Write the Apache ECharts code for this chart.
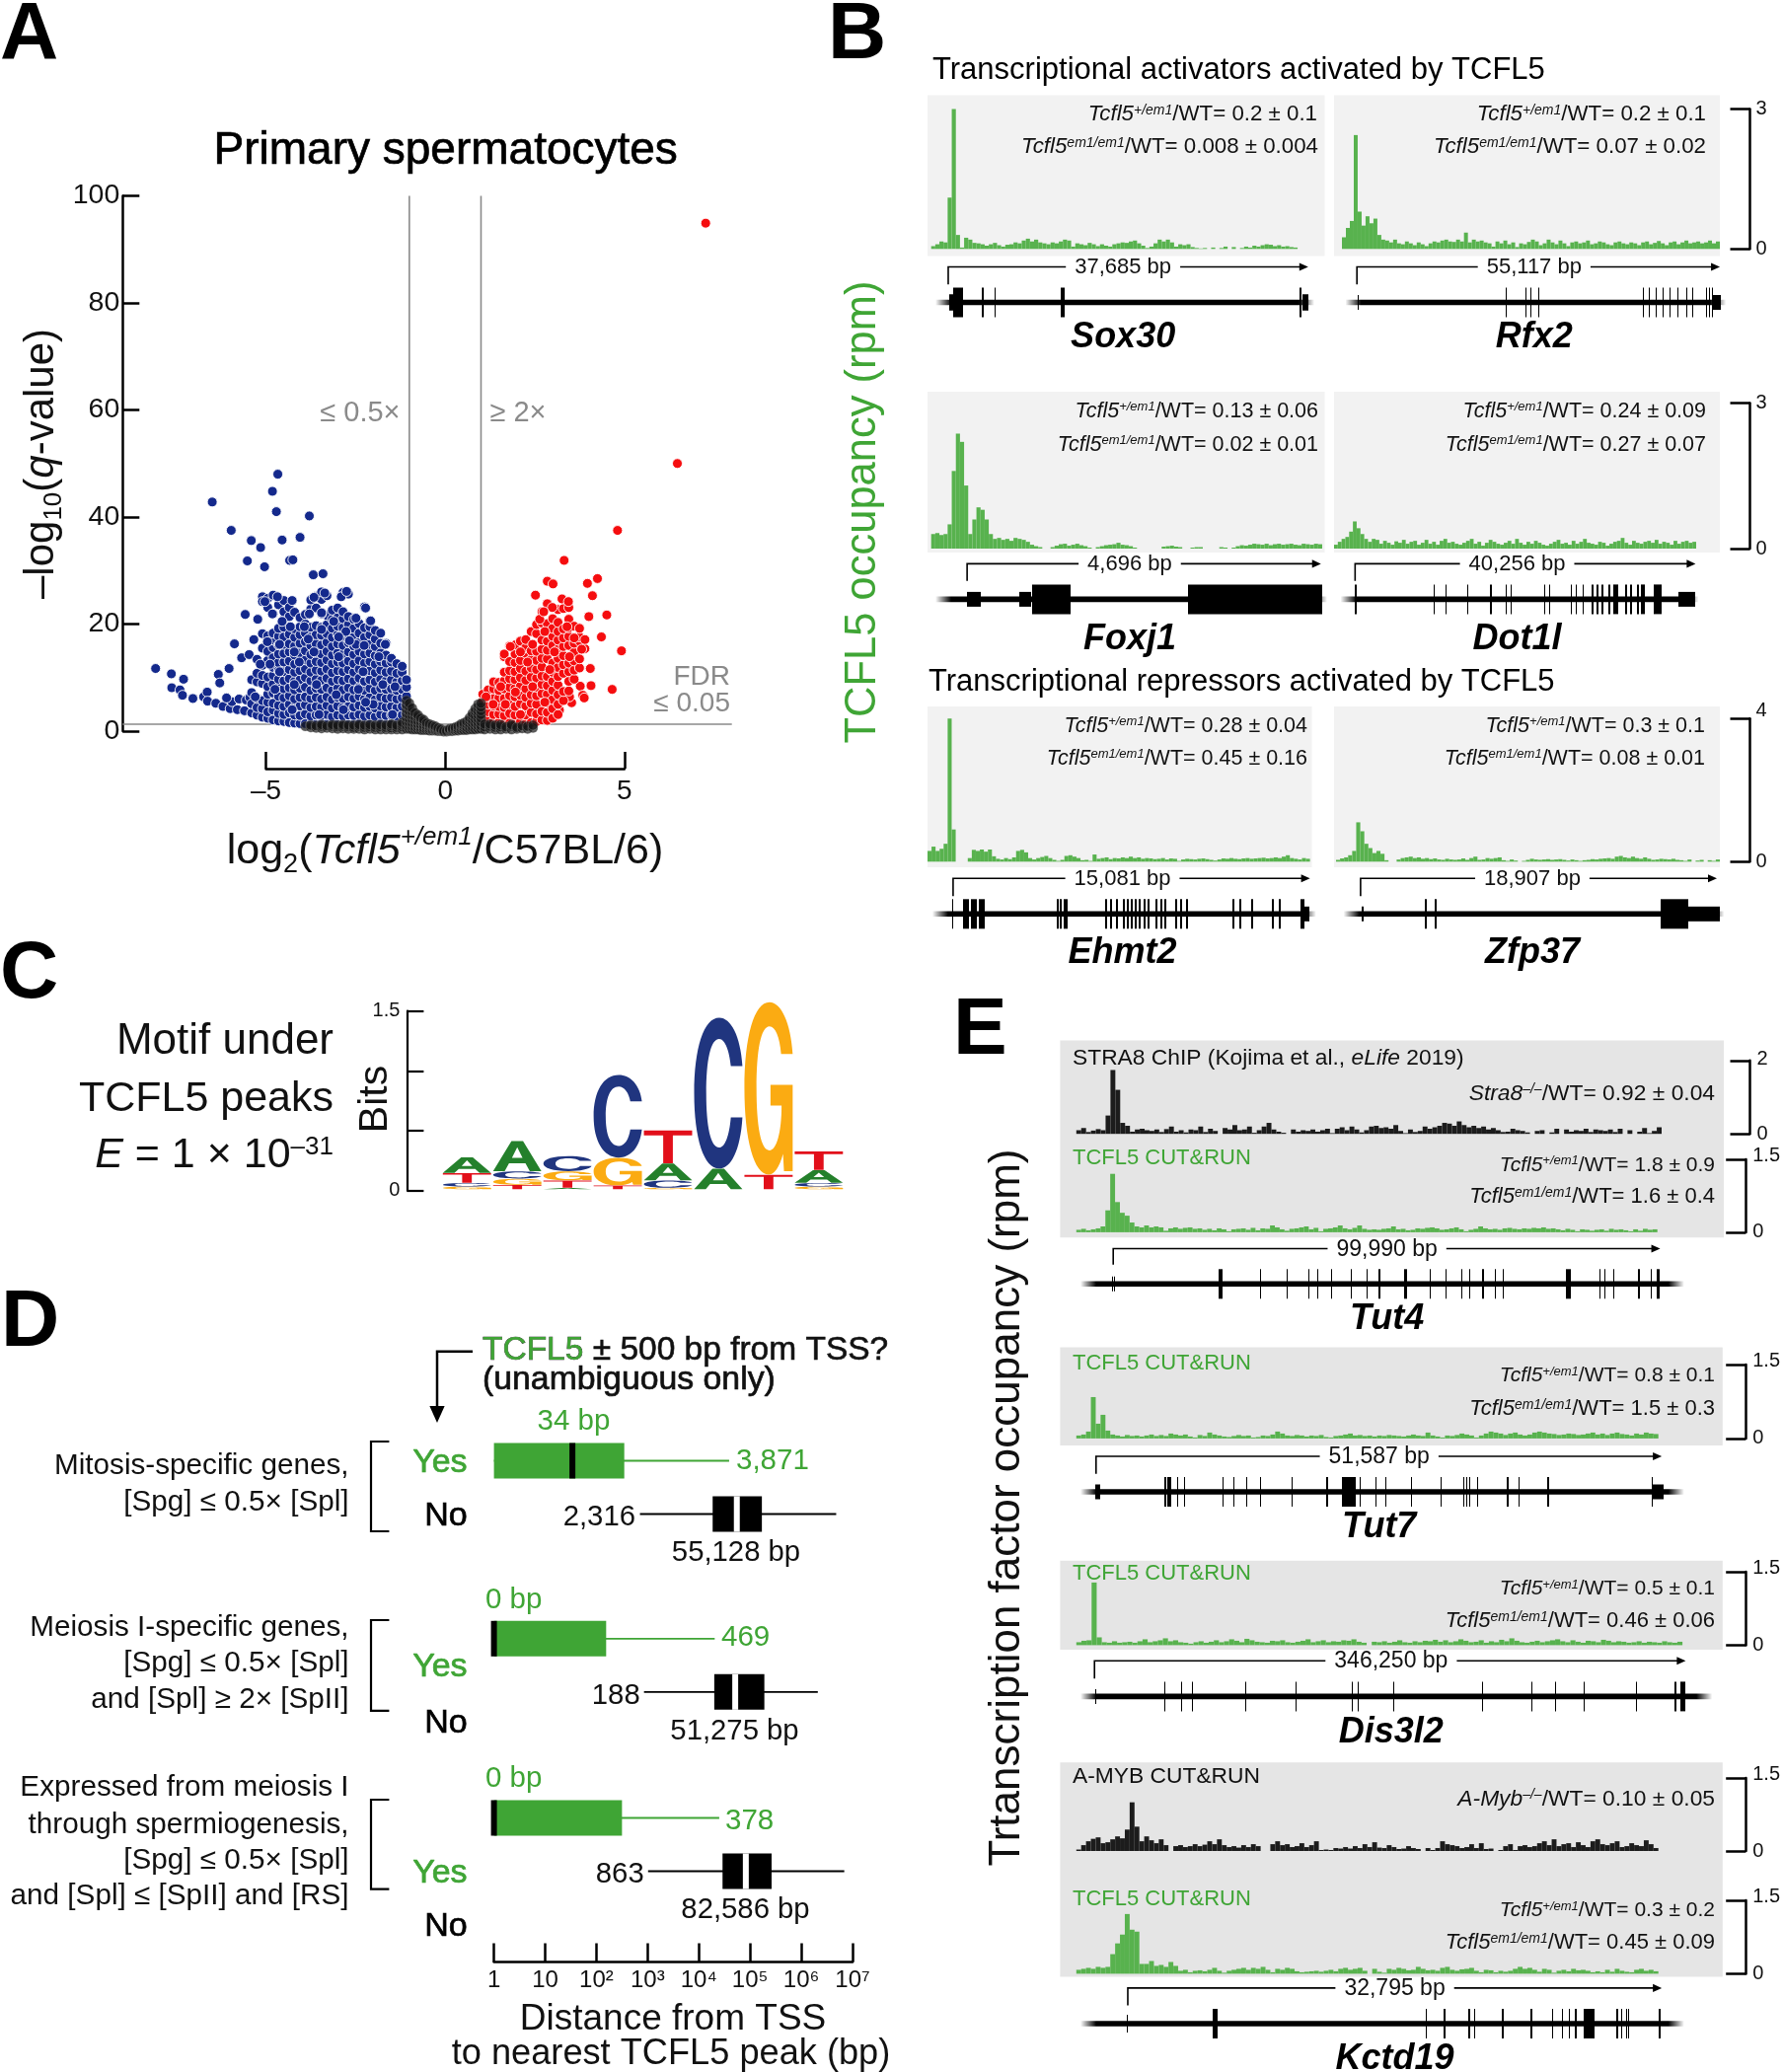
<!DOCTYPE html>
<html><head><meta charset="utf-8">
<style>html,body{margin:0;padding:0;background:#fff}#c{width:1807px;height:2100px}</style>
<script src="https://cdn.jsdelivr.net/npm/echarts@6/dist/echarts.min.js"></script>
</head><body><div id="c"></div>
<script>
// ===== DATA: panel A (log2 fold change, -log10 q) =====
const blueOutliers=[[-8.08,11.7],[-7.64,10.7],[-7.3,9.7],[-7.63,8.1],[-7.4,7.7],[-7.33,6.7],[-7.04,6.1],[-6.74,6.4],[-6.64,7.3],[-6.63,5.6],[-6.33,10.6],[-6.29,9],[-6.03,11.7],[-5.88,16.3],[-5.68,13.7],[-5.47,14.3],[-5.58,21.8],[-5.23,20.9],[-5.34,17.1],[-6.5,42.8],[-5.97,37.5],[-5.41,35.6],[-5.15,34.3],[-5.52,31.8],[-5.04,30.7],[-4.82,44.8],[-4.67,48],[-4.71,41],[-4.55,35.7],[-4.05,36.2],[-3.79,40.2],[-4.34,31.9],[-4.25,32],[-3.68,29.2],[-3.41,29.4],[-6.4,5.2],[-6.2,4.6],[-6,4.2],[-5.95,5.5],[-5.8,4],[-5.75,6],[-5.6,3.8],[-5.55,5.8],[-5.45,6.3],[-5.3,3.5],[-5.2,5],[-5.1,3.2],[-6.1,6.2]];
const blueColumns=[
[-5.4,[3.4,5.1,7.2,9.6]],
[-5.25,[3,4.4,6.1,9.2,10.8,13.4]],
[-5.1,[2.6,4.2,5.7,8.9,10.4,12.3,15.5,18.2,25.1,24.2]],
[-4.95,[2.4,3.6,5.4,6.9,8.3,10.1,13.2,14.9,17.8,23.1,24.8]],
[-4.8,[2.1,3.9,5.2,7.1,8.8,10.4,11.9,13.7,15.6,17,18.3,21.9,25.4]],
[-4.65,[1.9,3.3,4.8,6.5,8.2,9.7,11.3,12.8,14.4,16.1,17.7,19.2,23.6]],
[-4.5,[1.8,3.1,4.6,6.2,7.9,9.4,11.1,12.9,14.5,16.2,17.6,19.4,20.9,22.3,24.4]],
[-4.35,[1.6,3.4,5,6.6,8.1,9.8,11.5,13.1,14.8,16.3,18.1,21.4,23.1]],
[-4.2,[1.5,3,4.5,6,7.7,9.3,11,12.5,14.2,15.9,17.5,19.1,22.2]],
[-4.05,[1.4,2.9,4.7,6.3,8,9.6,11.3,13,14.6,16.4,18,19.5,21.2]],
[-3.9,[1.4,3.2,4.9,6.4,8.2,10,11.6,13.3,15,16.7,18.3,20,21.8]],
[-3.75,[1.3,2.8,4.4,6.1,7.6,9.4,11,12.7,14.3,16,17.6,19.4,22.8,24.5]],
[-3.6,[1.3,3,4.6,6.3,8,9.7,11.4,13,14.7,16.3,18,19.7,23,25.2]],
[-3.45,[1.4,2.9,4.5,6,7.8,9.5,11.2,12.8,14.4,16.1,17.9,19.4,24.6,26]],
[-3.3,[1.3,3.1,4.8,6.4,8.1,9.9,11.6,13.3,14.9,16.6,18.2,19.9,21.6,25.3]],
[-3.15,[1.3,2.7,4.3,5.9,7.6,9.3,10.9,12.6,14.2,15.8,17.5,19.2,20.9,22.6]],
[-3,[1.4,3,4.7,6.3,8,9.6,11.3,12.9,14.6,16.3,18,19.6,21.2,23]],
[-2.85,[1.3,2.8,4.4,6.1,7.7,9.4,11.1,12.7,14.4,16,17.7,19.3,21,22.3,25.9]],
[-2.7,[1.3,3,4.6,6.4,8.1,9.8,11.5,13.1,14.8,16.5,18.1,19.9,21.4,25.6]],
[-2.55,[1.3,2.9,4.5,6.1,7.7,9.4,11,12.6,14.3,15.9,17.6,19.2,20.9]],
[-2.4,[1.4,3.1,4.8,6.5,8.2,9.9,11.6,13.2,14.9,16.6,18.3,20.1]],
[-2.25,[1.3,2.8,4.4,6,7.6,9.3,11,12.7,14.4,16,17.5,19.3,23.2]],
[-2.1,[1.3,3,4.6,6.3,8,9.6,11.3,13,14.6,16.2,18,19.5,20.6]],
[-1.95,[1.3,2.7,4.3,5.9,7.6,9.2,10.9,12.5,14.1,15.8,17.2,18.8]],
[-1.8,[1.4,3.1,4.7,6.4,8,9.7,11.4,13,14.6,16.4,18.3]],
[-1.65,[1.3,2.9,4.5,6.1,7.8,9.4,11,12.7,14.2,16.4]],
[-1.5,[1.3,3,4.6,6.3,7.9,9.6,11.2,12.9,13.6]],
[-1.35,[1.4,2.8,4.4,6,7.6,9.2,10.8,12.6]],
[-1.2,[1.3,3,4.6,6.2,7.8,9.4,11,12.1]],
[-1.08,[1.5,3.2,4.8,6.5,8.2,9.6]]];
const blueOnTop=[[-4.96,16.7],[-4.62,16.2],[-4.32,19.5],[-3.93,19.5],[-3.45,21.9],[-3.11,20.5],[-2.77,18.6],[-2.49,16.2],[-2.26,16],[-1.67,16.2],[-1.85,13.9],[-4.21,14.8],[-3.82,17.2],[-3.45,19],[-2.97,17.6],[-2.67,16.9],[-4.62,11.1],[-4.07,12.9],[-3.66,14.8],[-2.97,13.9],[-2.29,11.1],[-1.74,8.7],[-4.89,12.5],[-5.16,12.5],[-4.21,8.7],[-3.59,8.7],[-3.04,6.8],[-2.42,7.8],[-2.01,5],[-1.4,8.3],[-4.75,7.8],[-5.3,6.4],[-4.27,4],[-3.52,3.1],[-2.84,4],[-2.22,5.4],[-1.47,3.1],[-4.55,20.5],[-4.82,21.9],[-5.03,24.2],[-4.68,25.1],[-4.27,24.4],[-3.79,21.9],[-3.45,22.1],[-3.66,25],[-3.36,25.8],[-2.9,25.1],[-2.75,26.1],[-2.22,23],[-2.08,20.6],[-2.49,21.1]];
const redOutliers=[[7.27,94.9],[6.48,50],[4.81,37.5],[3.32,31.9],[2.85,28],[3.01,27.5],[2.52,25.4],[3.97,27.6],[4.25,28.5],[4.11,25.3],[4.01,21.4],[4.51,21.7],[4.36,17.6],[4.92,15],[4.05,11.7],[4.07,8.5],[4.66,7.8],[3.77,8.4],[3.84,6.7],[3.88,6.2],[3.53,5.3],[3.47,6.4],[3.05,3.4],[3.19,3.9]];
const redColumns=[
[1.05,[2.7,4.3,5.6,6.9]],
[1.2,[2.2,3.6,5,6.4,7.7]],
[1.35,[1.8,3.1,4.7,6.1,7.9,9.2]],
[1.5,[1.6,3.2,4.6,6.2,7.6,9.1]],
[1.65,[1.5,2.9,4.4,6.1,7.9,9.4,11,13.9,14.4]],
[1.8,[1.5,3.3,5,6.6,8.2,9.8,11.3,13,15.9]],
[1.95,[1.4,3,4.6,6.4,8,9.6,11.1,12.8,14.4,16.1]],
[2.1,[1.7,5.1,6.7,8.4,10,11.7,13.2,16.8]],
[2.25,[1.4,3,4.7,6.3,7.9,9.5,11.2,14.5,15.6,17.1]],
[2.4,[1.6,3.5,5.2,6.8,10.1,11.8,13.4,15,18.6]],
[2.55,[1.8,3.2,5,6.6,8.2,9.9,11.5,13.2,14.9,18.2,19.9]],
[2.7,[2.1,3.7,7,8.7,10.3,12,13.6,15.3,17,20.2,22.3]],
[2.85,[2,3.5,5.2,6.9,8.5,10.2,13.5,15.1,16.8,18.5,20.1,23.8]],
[3,[2.4,4.2,5.9,7.6,9.3,11,12.7,16,17.7,19.2,21]],
[3.15,[3.1,5,6.8,8.6,10.2,11.9,13.6,15.3,17,18.6,20.3,22.7]],
[3.3,[5.7,7.4,10.8,12.4,14.1,15.8,17.4,19.1,22.9]],
[3.45,[7.5,9.3,11.1,12.7,16,17.7,19.3,20.9,23.1]],
[3.6,[9.7,11.4,13.1,14.7,16.4,19.6]],
[3.75,[11.8,13.5,16.8,17.6,19.2]],
[3.9,[15.4,17.1]]];
const redOnTop=[[2.64,20.9],[2.99,23.1],[3.26,24.7],[3.44,24.2],[2.75,22.3],[2.78,18.6],[3.4,19.5],[3.6,17.4],[1.82,15.8],[2.1,14.8],[2.44,16.2],[3.05,14.8],[2.3,12.9],[2.92,11.5],[3.47,13.9],[3.81,15.3],[1.55,8.3],[1.96,7.3],[2.44,8.3],[2.78,5.4],[1.68,5],[1.34,5],[1.14,6.4],[2.1,3.1]];
const blackColumns=[
[-3.9,[.9]],[-3.75,[.7,1.1]],[-3.6,[.6,1]],[-3.45,[.5,.9,1.2]],[-3.3,[.6,1]],[-3.15,[.5,.9,1.2]],[-3,[.4,.8,1.1]],[-2.85,[.5,.9,1.2]],[-2.7,[.4,.8,1.1]],[-2.55,[.4,.7,1.1]],[-2.4,[.4,.9,1.2]],[-2.25,[.3,.7,1.1]],[-2.1,[.4,.8,1.2]],[-1.95,[.3,.7,1.1]],[-1.8,[.3,.8,1.2]],[-1.65,[.3,.7,1.1]],[-1.5,[.3,.6,1,1.3]],[-1.35,[.3,.7,1.1]],[-1.2,[.3,.8,1.2,1.6]],
[-1.08,[.4,1,1.7,2.5,3.3,4.1,4.9,5.7]],[-1,[.4,1,1.6,2.3,3,3.7,4.5,5.2]],[-.92,[.3,.9,1.5,2.2,2.9,3.6,4.3]],[-.84,[.3,.8,1.4,2,2.7,3.4]],[-.76,[.3,.8,1.3,1.9,2.6,3]],[-.68,[.2,.7,1.2,1.8,2.4]],[-.6,[.2,.6,1.1,1.7,2.1]],[-.52,[.2,.6,1,1.5]],[-.44,[.1,.5,.9,1.3]],[-.36,[.1,.4,.8,1.1]],[-.28,[.1,.3,.6,.9]],[-.2,[0,.3,.6]],[-.12,[0,.2,.4]],[-.04,[-.1,.1]],[.04,[-.1,.1]],[.12,[0,.2,.4]],[.2,[0,.3,.5]],[.28,[.1,.4,.7]],[.36,[.1,.5,.9]],[.44,[.2,.6,1,1.3]],[.52,[.2,.7,1.1,1.5]],[.6,[.2,.7,1.3,1.8]],[.68,[.3,.8,1.4,2,2.5]],[.76,[.3,.8,1.5,2.1,2.8,3.3]],[.84,[.3,.9,1.5,2.2,2.9,3.7,4.2]],[.92,[.4,1,1.6,2.3,3,3.7,4.4,5]],[1,[.4,1,1.7,2.4,3.1,3.8,4.5,5.2]],[1.1,[.3,.8,1.3]],[1.25,[.4,.9,1.3]],[1.4,[.3,.7,1.1]],[1.55,[.3,.8,1.2]],[1.7,[.4,.8]],[1.85,[.3,.9,1.2]],[2,[.4,.7]],[2.15,[.5,1]],[2.3,[.4,.9]],[2.45,[.6,1.1]]];
const xTicksA=[-5,0,5];
// ===== DATA: panel C motif, bits per letter stacked from bottom =====
const logoColumns=[
[['G',.02],['C',.03],['T',.08],['A',.13]],
[['T',.035],['G',.05],['C',.06],['A',.25]],
[['A',.01],['T',.06],['G',.075],['C',.125]],
[['T',.03],['G',.23],['C',.69]],
[['G',.01],['C',.06],['A',.14],['T',.275]],
[['A',.17],['C',1.26]],
[['T',.12],['G',1.44]],
[['G',.02],['C',.03],['A',.105],['T',.155]]];
// ===== DATA: panel D [lowWhisker, q1, median, q3, highWhisker] in bp =====
const distYes1=[1,1,34,350,39000], distNo1=[708,18600,55128,170000,4800000];
const distYes2=[1,1,1,155,20400], distNo2=[850,20000,51275,190000,2100000];
const distYes3=[1,1,1,316,25000], distNo3=[1020,29000,82586,263000,6900000];
// ===== DATA: coverage tracks in rpm =====
const sox30Track=[.06,.1,.16,.14,1.1,3,.3,.03,.24,.2,.13,.12,.1,.07,.1,.13,.08,.05,.09,.1,.14,.12,.18,.22,.16,.2,.14,.12,.1,.14,.12,.16,.2,.18,.05,.12,.1,.08,.13,.1,.06,.1,.07,.05,.1,.12,.14,.13,.16,.18,.12,.07,.02,.05,.12,.2,.16,.2,.14,.05,.1,.08,.1,.04,.02,.01,.02,0,.03,0,.02,.05,0,.04,0,.02,.05,.03,.07,.05,.08,.1,.09,.06,.08,.05,.06,.04,.03,0,0,0];
const rfx2Track=[.25,.45,.6,2.44,.8,.5,.7,.55,.65,.3,.2,.18,.14,.2,.12,.1,.16,.12,.08,.14,.1,.06,.12,.16,.14,.18,.2,.16,.15,.2,.16,.35,.14,.2,.16,.18,.14,.12,.05,.16,.12,.18,.1,.14,.04,.12,.1,.15,.2,.16,.08,.12,.2,.14,.1,.18,.12,.06,.14,.16,.12,.14,.18,.1,.12,.16,.14,.1,.08,.14,.16,.12,.1,.14,.12,.08,.14,.16,.1,.13,.17,.12,.08,.14,.16,.1,.14,.18,.12,.14,.16,.12,.14,.18,.12,.16];
const foxj1Track=[.3,.32,.28,.3,.5,1.6,2.37,2.2,1.3,.3,.6,.85,.8,.6,.3,.2,.22,.18,.2,.16,.22,.2,.18,.14,.08,.05,.03,0,0,.03,.06,.09,.1,.06,.08,.1,.07,.05,.02,0,.03,.05,.07,.08,.09,.12,.08,.07,.05,.02,0,0,0,0,0,0,.04,.05,.06,.04,.03,0,0,.02,.03,.03,0,0,0,0,.03,.02,0,.02,.05,.07,.06,.08,.1,.09,.08,.1,.07,.09,.1,.08,.09,.1,.08,.07,.1,.09,.08,.1,.09];
const dot1lTrack=[.08,.14,.2,.24,.35,.56,.42,.3,.2,.14,.2,.18,.1,.16,.12,.08,.15,.12,.18,.1,.14,.16,.08,.12,.18,.1,.14,.08,.16,.2,.12,.14,.1,.08,.12,.16,.2,.1,.14,.06,.12,.18,.14,.1,.08,.12,.16,.1,.2,.12,.08,.14,.1,.16,.12,.08,.06,.1,.14,.18,.1,.12,.08,.16,.1,.14,.2,.12,.1,.08,.14,.12,.06,.1,.14,.16,.22,.12,.08,.16,.12,.1,.14,.16,.12,.18,.1,.14,.12,.08,.16,.1,.14,.16,.12,.14];
const ehmt2Track=[.3,.42,.3,.36,.5,4,.9,0,0,0,.1,.33,.3,.34,.28,.34,.15,.08,.06,.1,.07,.12,.3,.33,.26,.1,.06,.1,.13,.16,.1,.05,.02,.05,.16,.18,.14,.1,.04,.05,.02,.2,.08,.1,.12,.07,.1,.09,.12,.1,.14,.1,.12,.08,.1,.09,.07,.08,.1,.06,.09,.08,.02,.06,.08,.07,.06,.08,.09,.07,.05,.03,.06,.09,.08,.1,.08,.07,.09,.1,.08,.09,.1,.11,.09,.1,.12,.1,.14,.18,.1,.08,.06,.1,.08];
const zfp37Track=[.05,.09,.12,.18,.3,1.1,.85,.5,.38,.24,.3,.22,.04,0,0,.06,.1,.12,.14,.1,.12,.08,.1,.07,.09,.06,.05,.08,.06,.05,.06,.09,.05,.1,.14,.05,.06,.1,.08,.1,.12,.04,.02,.06,.03,0,.02,.05,.08,.06,.05,.06,.07,.05,.06,.07,.05,.03,.06,.04,.02,.04,.05,.07,.06,.08,.09,.1,.08,.14,.16,.12,.1,.14,.1,.08,.12,.08,.05,.06,.08,.07,.06,.08,.05,.04,.02,.06,0,.03,.05,0,.04,.02,.06];
const stra8Track=[.1,.16,.05,.09,.13,.1,.5,1.74,1.2,.3,.22,.06,.12,.14,.1,.08,.12,.05,.13,.2,.06,.1,.04,.12,.1,.2,.05,.14,.08,0,.16,.12,.24,.1,.12,.2,.03,.1,.2,.3,.12,.06,.03,0,.12,.06,.1,.08,.12,.06,.1,.14,.02,.14,.18,.1,.2,.12,.04,.1,.2,.22,.16,.18,.14,.24,.08,.02,.12,.05,.08,.2,.14,.18,.22,.3,.28,.22,.34,.24,.18,.22,.16,.2,.12,.16,.1,.05,.06,.14,.1,.08,.04,0,.08,.1,0,.04,.14,0,.12,.06,.1,.08,.14,.05,.12,.1,.08,.12,.05,.14,0,.1,0,.06,.16,.02,.08,.18];
const tcfl5Tut4Track=[.05,.07,.04,.06,.08,.12,.45,1.2,.62,.4,.34,.2,.12,.1,.14,.1,.12,.1,.03,.08,.1,.07,.09,.1,.07,.08,.05,.07,.04,.08,.06,.02,.06,.07,.08,.05,.09,.04,.08,.07,.14,.1,.06,.03,.07,.08,.1,.12,.06,.09,.02,.07,.08,.1,.14,.08,.06,.09,.14,.07,.05,.06,.05,.07,.08,.12,.06,.07,.04,.05,.08,.07,.09,.1,.08,.05,.06,.08,.1,.06,.02,.05,.07,.12,.08,.06,.07,.05,.08,.09,.07,.06,.08,.07,.09,.08,.1,.07,.08,.06,.04,.07,.05,.02,.06,.05,.03,.05,.06,.03,.07,.05,.06,.04,.02,.06,.03,.07,.05,.06];
const tcfl5Tut7Track=[.06,.08,.14,.84,.3,.48,.16,.08,.06,.04,.07,.05,.06,.04,.06,.08,.05,.07,.05,.1,.08,.06,.08,.04,.02,.07,.05,.12,.08,.06,.04,.03,.05,.07,.05,.06,.02,.03,.06,.05,.08,.14,.1,.06,.05,.07,.06,.04,.06,.05,.07,.03,.02,.05,.06,.08,.1,.06,.07,.05,.06,.04,.06,.05,.07,.06,.05,.04,.06,.08,.06,.05,.12,.06,.04,.02,.06,.05,.07,.1,.08,.06,.02,.06,.1,.14,.12,.1,.07,.1,.12,.08,.06,.08,.12,.14,.12,.1,.09,.07,.08,.1,.09,.07,.08,.1,.12,.08,.1,.07,.1,.12,.09,.08,.06,.1,.08,.12,.1,.09];
const dis3l2Track=[.06,.09,.1,1.28,.16,.06,.05,.08,.05,.06,.07,.05,.08,.12,.06,.08,.1,.14,.08,.1,.06,.05,.03,.06,.08,.05,.07,.1,.06,.08,.12,.09,.06,.13,.1,.07,.06,.05,.09,.08,.1,.06,.05,.07,.09,.12,.06,.08,.1,.06,.08,.07,.1,.09,.12,.07,.05,0,.07,.06,.08,.05,.07,.1,.06,.05,.08,.06,.09,.08,.11,.07,.1,.06,.08,.12,.09,.06,.07,.1,.05,.08,.06,.11,.08,.14,.09,.06,.05,.07,.09,.06,.08,.1,.12,.08,.06,.1,.07,.05,.09,.08,.06,.11,.09,.06,.08,.07,.05,.06,.08,.05,.07,.06,.05,.08,.06,.05,.07];
const amybTrack=[.03,.12,.2,.25,.28,.16,.18,.24,.3,.26,.44,1,.5,.2,.3,.22,.16,.24,.12,0,.1,.12,.08,.1,.14,.1,.13,.2,.14,.24,.12,.08,.1,.07,.12,.08,.14,.1,0,0,.14,.2,.12,.14,.08,.1,.16,.08,.12,.2,.02,.03,.02,.06,.05,.08,.05,.1,.06,.14,.08,.18,.07,.06,.12,.08,.04,.05,.1,.06,.04,0,.06,.02,.06,.2,.14,.12,.1,.06,.08,.14,.06,.16,.04,.05,0,.02,.1,.14,.02,.1,.12,.08,.1,.16,.2,.12,.24,.1,.14,.16,.08,.18,.12,.08,.2,.24,.14,.12,.16,.2,.08,.1,.16,.12,.1,.22,.14,.06];
const tcfl5KctdTrack=[.08,.1,.12,.1,.14,.12,.14,.4,.62,.8,1.22,.9,.86,.2,.2,.26,.16,.18,.14,.24,.16,.06,.08,.03,.06,.07,.05,.08,.12,.06,.02,.06,.08,.1,.12,.08,.12,.1,.14,.08,.03,.1,.08,.12,.1,.05,.03,.04,.05,.06,.04,.06,.08,.05,.1,.12,.08,.1,.12,.06,0,.1,.04,.02,.1,.08,.12,.1,.07,.08,.14,.1,.07,.08,.06,.12,.14,.08,.06,.09,.1,.12,.06,.03,.08,.07,.03,.06,.04,.06,.1,.14,.1,.12,.08,.04,.1,.08,.02,.06,.08,.05,.1,.07,.08,.06,.03,.05,.03,.08,.04,.1,.06,.04,.03,.08,.1,.06,.08,.05];
// ===== DATA: gene models: [start, end, relative half height] along each gene =====
const sox30Exons=[[197,204,.55],[204,221,1],[251,254,1],[272,274,1],[380,386,1],[773,777,1],[777,787,.55]];
const rfx2Exons=[[869,871,.5],[1112,1114,1],[1143,1145,1],[1152,1154,1],[1164,1166,1],[1336,1338,1],[1346,1348,1],[1357,1359,1],[1369,1371,1],[1380,1382,1],[1394,1396,1],[1407,1409,1],[1418,1420,1],[1440,1442,1],[1445,1447,1],[1450,1452,1],[1452,1465,.5]];
const foxj1Exons=[[227,249,.5],[313,333,.5],[333,396,1],[589,684,1],[685,810,1]];
const dot1lExons=[[863,865.5,1],[993,995,1],[1013,1015,1],[1048,1050,1],[1085,1088,1],[1111,1113,1],[1119,1121,1],[1175,1177,1],[1182,1184,1],[1219,1221,1],[1227,1229,1],[1237,1239,1],[1253,1257,1],[1261,1265,1],[1269,1272,1],[1279,1282,1],[1288,1296,1],[1307,1310,1],[1315,1318,1],[1326,1330,1],[1333,1340,1],[1355,1368,1],[1395,1423,.5]];
const ehmt2Exons=[[203,205,1],[221,230,1],[234,243,1],[247,257,1],[374,377,1],[379,382,1],[385,391,1],[454,457,1],[462,465,1],[472,475,1],[482,486,1],[489,492,1],[496,499,1],[502,505,1],[509,512,1],[516,520,1],[523,526,1],[536,539,1],[544,547,1],[551,554,1],[569,572,1],[577,580,1],[587,591,1],[663,666,1],[674,677,1],[694,697,1],[727,730,1],[739,742,1],[774,780,1],[780,790,.5]];
const zfp37Exons=[[875,878,.5],[979,982,1],[994,997,1],[1365,1411,1],[1411,1463,.5]];
const tut4Exons=[[278,280,.5],[283,285,.5],[483,491,1],[563,565,1],[615,617,1],[656,658,1],[674,676,1],[699,701,1],[737,739,1],[767,769,1],[791,795,1],[840,846,1],[890,892,1],[920,922,1],[950,952,1],[965,967,1],[989,993,1],[1014,1016,1],[1030,1032,1],[1150,1160,1],[1215,1217,1],[1224,1226,1],[1242,1244,1],[1290,1294,1],[1314,1316,1],[1326,1331,1]];
const tut7Exons=[[247,256,.5],[379,382,1],[384,387,1],[389,392,1],[404,406,1],[418,420,1],[491,493,1],[511,513,1],[536,538,1],[564,566,1],[624,626,1],[691,695,1],[720,747,1],[755,757,1],[784,786,1],[804,806,1],[854,856,1],[910,912,1],[953,955,1],[959,961,1],[965,967,1],[981,983,1],[1037,1041,1],[1059,1061,1],[1115,1119,1],[1315,1317,1],[1317,1338,.5]];
const dis3l2Exons=[[246,248,.5],[380,382,1],[411,413,1],[432,434,1],[534,536,1],[632,634,1],[739,741,1],[750,752,1],[819,821,1],[989,991,1],[1084,1086,1],[1130,1132,1],[1185,1187,1],[1285,1287,1],[1359,1363,1],[1371,1381,1]];
const kctd19Exons=[[308,310,.6],[472,482,1],[881,883,1],[915,919,1],[964,968,1],[974,976,1],[1028,1032,1],[1083,1087,1],[1124,1126,1],[1144,1146,1],[1156,1158,1],[1168,1172,1],[1185,1205,1],[1248,1252,1],[1257,1259,1],[1266,1268,1],[1271,1273,1],[1329,1333,1]];

// ===== LAYOUT =====
const F='"Liberation Sans",Arial,Helvetica,sans-serif';
const GREEN='#3fa535', TRACKG='#58b24e', BLUE='#14298c', RED='#f50d0f', GRAY='#8a8a8a';
const grids=[],xAxes=[],yAxes=[],series=[],graphic=[];
function addGrid(g,x,y){grids.push(g);x.gridIndex=grids.length-1;y.gridIndex=grids.length-1;xAxes.push(x);yAxes.push(y);return grids.length-1;}
const hiddenAxis=o=>Object.assign({type:'value',show:false,splitLine:{show:false}},o);
function T(x,y,text,o={}){
  const size=o.size||22;
  const yy=o.rot?y:y+size*.075;
  graphic.push({type:'text',x,y:yy,rotation:o.rot||0,z:o.z||20,silent:true,style:Object.assign({text,fontFamily:F,fontSize:size,fontWeight:o.weight||'normal',fontStyle:o.italic?'italic':'normal',fill:o.color||'#111',align:o.align||'left',verticalAlign:'middle',rich:o.rich},o.medium?{stroke:o.color||'#111',lineWidth:o.medium}:{},o.bg?{backgroundColor:'#fff',padding:[0,9]}:{})});
}
function R(x,y,w,h,fill,z){graphic.push({type:'rect',z:z==null?-1:z,silent:true,shape:{x,y,width:w,height:h},style:{fill}});}
function P(pts,lw,z){graphic.push({type:'polyline',z:z||15,silent:true,shape:{points:pts},style:{stroke:'#000',lineWidth:lw,fill:null}});}
function head(x,y,dir,s){const p=dir==='r'?[[x,y],[x-s,y-s*.45],[x-s,y+s*.45]]:[[x,y],[x-s*.45,y-s],[x+s*.45,y-s]];
  graphic.push({type:'polygon',z:15,silent:true,shape:{points:p},style:{fill:'#000'}});}
function richFor(size,color){return {
  i:{fontFamily:F,fontStyle:'italic',fontSize:size,fill:color||'#111'},
  s:{fontFamily:F,fontStyle:'italic',fontSize:Math.round(size*.62),fill:color||'#111',verticalAlign:'top'},
  n:{fontFamily:F,fontSize:size,fill:color||'#111'}};}
function annot(xr,y,gen,sup,val,size){T(xr,y,`{i|${gen}}{s|${sup}}{n|/WT= ${val}}`,{align:'right',size,rich:richFor(size)});}

// --- panel letters
[['A',0,30],['B',839,30],['C',0,982],['D',1,1335],['E',966,1039]].forEach(a=>T(a[1],a[2],a[0],{size:82,weight:'bold',color:'#000'}));

// --- Panel A
const flat=c=>{const r=[];c.forEach(k=>k[1].forEach(y=>r.push([k[0],y])));return r;};
const iA=addGrid({left:124.3,top:198.5,width:617.4,height:542.5},
  hiddenAxis({min:-9,max:8}),
  {type:'value',min:0,max:100,interval:20,axisLine:{show:true,onZero:false,lineStyle:{color:'#000',width:2.5}},axisTick:{show:true,inside:true,length:17,lineStyle:{color:'#000',width:2.5}},axisLabel:{fontFamily:F,fontSize:28.5,color:'#111',margin:3,padding:[7,0,0,0]},splitLine:{show:false}});
const refLine=(d)=>({type:'line',xAxisIndex:iA,yAxisIndex:iA,data:d,showSymbol:false,symbol:'none',silent:true,lineStyle:{color:GRAY,width:1.6},z:1,clip:false});
series.push(refLine([[-1,1.3],[-1,100]]),refLine([[1,1.3],[1,100]]),refLine([[-9,1.3],[8,1.3]]));
const dot=(d,color,border,bw,z)=>({type:'scatter',xAxisIndex:iA,yAxisIndex:iA,data:d,symbolSize:10,itemStyle:{color,borderColor:border,borderWidth:bw,opacity:1},z,silent:true,clip:false});
series.push(dot(blueOutliers.concat(flat(blueColumns),blueOnTop),BLUE,'#fff',.9,3));
series.push(dot(redOutliers.concat(flat(redColumns),redOnTop),RED,'#fff',.9,3));
series.push(dot(flat(blackColumns),'rgba(22,22,22,.72)','rgba(190,190,190,.35)',.8,4));
const iAx=addGrid({left:269.6,top:762,width:363.2,height:17},
  {type:'value',min:-5,max:5,interval:5,axisLine:{lineStyle:{color:'#000',width:2.5},onZero:false},axisTick:{inside:true,length:17,lineStyle:{color:'#000',width:2.5}},axisLabel:{fontFamily:F,fontSize:28,color:'#111',margin:9,formatter:v=>xTicksA.includes(v)?String(v).replace('-','–'):''},splitLine:{show:false}},
  hiddenAxis({min:0,max:1}));
series.push({type:'line',xAxisIndex:iAx,yAxisIndex:iAx,data:[],silent:true});
T(451.7,150,'Primary spermatocytes',{size:46,align:'center',medium:.7,color:'#000'});
T(42,470,'{n|–log}{b|10}{n|(}{i|q}{n|-value)}',{size:42,align:'center',rot:Math.PI/2,rich:{n:{fontFamily:F,fontSize:42,fill:'#111',lineHeight:52},i:{fontFamily:F,fontStyle:'italic',fontSize:42,fill:'#111',lineHeight:52},b:{fontFamily:F,fontSize:26,fill:'#111',verticalAlign:'bottom',lineHeight:52}}});
T(451,860,'{n|log}{b|2}{n|(}{i|Tcfl5}{s|+/em1}{n|/C57BL/6)}',{size:43,align:'center',rich:{n:{fontFamily:F,fontSize:43,fill:'#111',lineHeight:54},i:{fontFamily:F,fontStyle:'italic',fontSize:43,fill:'#111',lineHeight:54},b:{fontFamily:F,fontSize:27,fill:'#111',verticalAlign:'bottom',lineHeight:54},s:{fontFamily:F,fontStyle:'italic',fontSize:26,fill:'#111',verticalAlign:'top',lineHeight:31}}});
T(405.5,416.5,'≤ 0.5×',{size:29,align:'right',color:GRAY});
T(496.5,416.5,'≥ 2×',{size:29,color:GRAY});
T(740,684.5,'FDR',{size:28,align:'right',color:GRAY});
T(740,711.5,'≤ 0.05',{size:28,align:'right',color:GRAY});

// --- tracks
function track(vals,o){
  const top=o.top,h=o.zero-o.top,i=addGrid({left:o.l,top,width:o.r-o.l,height:h},
    {type:'category',show:false,data:vals.map((_,k)=>k),boundaryGap:true},
    o.bar?{type:'value',position:'right',min:0,max:o.max,interval:o.max,offset:1773.5-o.r,
      axisLine:{show:true,onZero:false,lineStyle:{color:'#000',width:2.5}},axisTick:{show:true,inside:true,length:20,lineStyle:{color:'#000',width:2.5}},
      axisLabel:{show:true,fontFamily:F,fontSize:20,color:'#111',margin:o.m||6,hideOverlap:false,formatter:v=>v?`{t|${v}}`:'0',rich:{t:{fontFamily:F,fontSize:20,color:'#111',padding:[0,0,o.up||0,0]}}},splitLine:{show:false}}
    :hiddenAxis({min:0,max:o.max}));
  series.push({type:'bar',xAxisIndex:i,yAxisIndex:i,data:vals,barWidth:'100%',barCategoryGap:0,silent:true,itemStyle:{color:o.color||TRACKG},z:2});
}
// --- gene model
function gene(exons,o){
  const left=o.ox+o.a/o.xf,w=(o.b-o.a)/o.xf;
  const i=addGrid({left,top:o.y-15,width:w,height:30},hiddenAxis({min:o.a,max:o.b}),hiddenAxis({min:-1,max:1}));
  const fade=Math.min(.2,16/w);
  series.push({type:'custom',xAxisIndex:i,yAxisIndex:i,silent:true,z:3,data:[[o.a,o.b]],
    renderItem:(p,api)=>{const s=api.coord([api.value(0),0]),e=api.coord([api.value(1),0]);
      return {type:'rect',shape:{x:s[0],y:s[1]-2.8,width:e[0]-s[0],height:5.6},style:{fill:new echarts.graphic.LinearGradient(0,0,1,0,[{offset:0,color:'rgba(0,0,0,0)'},{offset:fade,color:'#000'},{offset:1-fade,color:'#000'},{offset:1,color:'rgba(0,0,0,0)'}])}};}});
  series.push({type:'custom',xAxisIndex:i,yAxisIndex:i,silent:true,z:4,data:exons,
    renderItem:(p,api)=>{const s=api.coord([api.value(0),api.value(2)]),e=api.coord([api.value(1),-api.value(2)]);
      const x=Math.round(s[0]);
      return {type:'rect',shape:{x,y:s[1],width:Math.max(1,Math.round(e[0]-s[0])),height:e[1]-s[1]},style:{fill:'#000'}};}});
  // arrow, span and name
  const x0=o.ox+o.tss/o.xf,x1=o.ox+o.end/o.xf,lx=o.ox+o.lab/o.xf;
  P([[x0,o.tick],[x0,o.ay],[x1-3,o.ay]],1.6);head(x1,o.ay,'r',9);
  T(lx,o.ay-1,o.span,{size:o.ls||22,align:'center',bg:true,color:'#111'});
  T(lx,o.ny+.5,o.name,{size:36,align:'center',italic:true,weight:'bold',color:'#000'});
}
// --- Panel B
const BX=840,BF=1.62;
T(945,69,'Transcriptional activators activated by TCFL5',{size:31,color:'#000'});
T(941,689,'Transcriptional repressors activated by TCFL5',{size:31,color:'#000'});
T(875,519,'TCFL5 occupancy (rpm)',{size:43.5,color:GREEN,align:'center',rot:Math.PI/2});
const panelG='#f2f2f2';
R(940,96.5,402.5,163,panelG);R(1352,96.5,391,163,panelG);
R(940,397,402.5,163,panelG);R(1352,397,391,163,panelG);
R(940,716,389.5,163,panelG);R(1352,716,391,163,panelG);
track(sox30Track,{l:943.7,r:1327.6,top:110.4,zero:252.3,max:3});
track(rfx2Track,{l:1360,r:1743,top:110.4,zero:252.3,max:3,bar:true});
track(foxj1Track,{l:943.7,r:1340,top:408.5,zero:556,max:3});
track(dot1lTrack,{l:1352,r:1719,top:408.5,zero:556,max:3,bar:true});
track(ehmt2Track,{l:940,r:1327.6,top:728.3,zero:873.3,max:4});
track(zfp37Track,{l:1354,r:1743,top:728.3,zero:873.3,max:4,bar:true,up:16});
const B=(a,b,y,tss,end,lab,ay,tick,ny,name,span)=>({ox:BX,xf:BF,a,b,y,tss,end,lab,ay,tick,ny,name,span});
gene(sox30Exons,B(175,797,306.5,196,787,483,270.5,288.3,338.5,'Sox30','37,685 bp'));
gene(rfx2Exons,B(848,1473,306.5,867,1463,1158,270.5,288.3,338.5,'Rfx2','55,117 bp'));
gene(foxj1Exons,B(175,818,607.4,227,808,494,571.4,588.8,645,'Foxj1','4,696 bp'));
gene(dot1lExons,B(840,1428,607.4,864,1423,1130,571.4,588.8,645,'Dot1l','40,256 bp'));
gene(ehmt2Exons,B(170,800,926.3,204,790,482,890.3,908.3,962.7,'Ehmt2','15,081 bp'));
gene(zfp37Exons,B(845,1470,926.3,873,1458,1155,890.3,908.3,962.7,'Zfp37','18,907 bp'));
const HE='+/em1',EE='em1/em1',B1=22.3,BS=21.5;
annot(1335,114.3,'Tcfl5',HE,'0.2 ± 0.1',B1);annot(1336,147.6,'Tcfl5',EE,'0.008 ± 0.004',B1);
annot(1729,114.3,'Tcfl5',HE,'0.2 ± 0.1',B1);annot(1729,147.6,'Tcfl5',EE,'0.07 ± 0.02',B1);
annot(1336,415.6,'Tcfl5',HE,'0.13 ± 0.06',BS);annot(1336,449.3,'Tcfl5',EE,'0.02 ± 0.01',BS);
annot(1729,415.6,'Tcfl5',HE,'0.24 ± 0.09',BS);annot(1729,449.3,'Tcfl5',EE,'0.27 ± 0.07',BS);
annot(1325,734,'Tcfl5',HE,'0.28 ± 0.04',BS);annot(1325,767.3,'Tcfl5',EE,'0.45 ± 0.16',BS);
annot(1728,734,'Tcfl5',HE,'0.3 ± 0.1',BS);annot(1728,767.3,'Tcfl5',EE,'0.08 ± 0.01',BS);

// --- Panel C
T(338,1052.8,'Motif under',{size:44,align:'right',color:'#111'});
T(338,1110.5,'TCFL5 peaks',{size:43,align:'right',color:'#111'});
T(338,1168,'{i|E}{n| = 1 × 10}{s|–31}',{size:43,align:'right',rich:{i:{fontFamily:F,fontStyle:'italic',fontSize:43,fill:'#111'},n:{fontFamily:F,fontSize:43,fill:'#111'},s:{fontFamily:F,fontSize:26,fill:'#111',verticalAlign:'top'}}});
T(381,1114,'Bits',{size:41,align:'center',rot:Math.PI/2,color:'#111'});
const GLYPH={
 T:'M0 0H100V15H60V100H40V15H0Z',
 A:'M38 0H62L100 100H76L67 74H33L24 100H0Z M50 20L39 56H61Z',
 C:'M100 32C96 12 76 0 52 0C20 0 0 20 0 50C0 80 20 100 52 100C76 100 96 88 100 66L76 66C73 78 64 86 52 86C34 86 25 72 25 50C25 28 34 14 52 14C64 14 73 22 76 32Z',
 G:'M100 30C96 12 76 0 52 0C20 0 0 20 0 50C0 80 20 100 50 100C62 100 72 96 80 88L82 98H100V48H54V60H77C77 76 66 86 52 86C34 86 25 72 25 50C25 28 34 14 52 14C64 14 73 20 76 30Z'};
const LC={T:'#e20f1a',A:'#24802b',C:'#20357f',G:'#fbab12'};
const logoData=[];const logoLetters=[];
logoColumns.forEach((col,c)=>{let b=.012;col.forEach(l=>{logoData.push([c,b,b+l[1]]);logoLetters.push(l[0]);b+=l[1]+.002;});});
const iC=addGrid({left:447.8,top:1024.7,width:407.5,height:182},
  hiddenAxis({min:0,max:8}),
  {type:'value',min:0,max:1.5,interval:.5,offset:35.4,axisLine:{show:true,onZero:false,lineStyle:{color:'#000',width:2.2}},axisTick:{show:true,inside:true,length:17,lineStyle:{color:'#000',width:2.2}},axisLabel:{fontFamily:F,fontSize:20,color:'#111',margin:7,padding:[3,0,0,0],formatter:v=>(v===0||v===1.5)?String(v):''},splitLine:{show:false}});
series.push({type:'custom',xAxisIndex:iC,yAxisIndex:iC,silent:true,z:3,clip:false,data:logoData,
  renderItem:(p,api)=>{const c=api.value(0);const a=api.coord([c+.02,api.value(2)]),b=api.coord([c+.98,api.value(1)]);const L=logoLetters[p.dataIndex];
    return {type:'path',shape:{pathData:GLYPH[L],layout:'cover',x:a[0],y:a[1],width:b[0]-a[0],height:b[1]-a[1]},style:{fill:LC[L]}};}});

// --- Panel D
function group(top,yes,no){
  const i=addGrid({left:500.6,top,width:363.4,height:108},
    {type:'log',logBase:10,min:1,max:1e7,show:false,splitLine:{show:false}},
    {type:'category',show:false,inverse:true,data:['Yes','No']});
  const rows=[[0].concat(yes),[1].concat(no)];
  series.push({type:'custom',xAxisIndex:i,yAxisIndex:i,silent:true,z:3,clip:false,data:rows,encode:{x:[1,2,3,4,5],y:0},
    renderItem:(p,api)=>{const row=api.value(0),yesRow=row===0;const px=k=>api.coord([api.value(k),row]);
      const y=px(1)[1],col=yesRow?GREEN:'#000',H=36;const ch=[];
      ch.push({type:'line',shape:{x1:px(1)[0],y1:y,x2:px(5)[0],y2:y},style:{stroke:col,lineWidth:1.8}});
      ch.push({type:'rect',shape:{x:px(2)[0],y:y-H/2,width:px(4)[0]-px(2)[0],height:H},style:{fill:col}});
      const m=px(3)[0];
      ch.push({type:'rect',shape:{x:m-3,y:y-H/2,width:6,height:H},style:{fill:yesRow?'#000':'#fff'}});
      return {type:'group',children:ch};}});
}
group(1453.5,distYes1,distNo1);group(1633.8,distYes2,distNo2);group(1815.5,distYes3,distNo3);
const expSup=['','¹','²','³','⁴','⁵','⁶','⁷'];
const iD=addGrid({left:500.6,top:1969.5,width:363.4,height:19},
  {type:'log',logBase:10,min:1,max:1e7,axisLine:{onZero:false,lineStyle:{color:'#000',width:2.5}},axisTick:{inside:true,length:19,lineStyle:{color:'#000',width:2.5}},minorTick:{show:false},
   axisLabel:{fontFamily:F,fontSize:24,color:'#111',margin:7,hideOverlap:false,showMinLabel:true,showMaxLabel:true,formatter:v=>{const e=Math.round(Math.log10(v));return e===0?'1':e===1?'10':'10'+expSup[e];}},splitLine:{show:false}},
  hiddenAxis({min:0,max:1}));
series.push({type:'line',xAxisIndex:iD,yAxisIndex:iD,data:[],silent:true});
T(489,1366.5,'{g|TCFL5}{n| ± 500 bp from TSS?}',{size:33.5,rich:{g:{fontFamily:F,fontSize:33.5,fill:GREEN},n:{fontFamily:F,fontSize:33.5,fill:'#111'}},medium:.6});
T(489,1396.5,'(unambiguous only)',{size:33.8,medium:.7,color:'#111'});
P([[479,1369.7],[443,1369.7],[443,1428]],2.5);head(443,1442,'d',17);
[['34 bp',581.5,1438.4,'center'],['0 bp',492,1619.4,'left'],['0 bp',492,1801,'left'],['3,871',746,1478.4,'left'],['469',731,1658,'left'],['378',735,1844,'left']].forEach(a=>T(a[1],a[2],a[0],{size:29.5,color:GREEN,align:a[3]}));
[['2,316',644,1536,'right'],['188',648.7,1717,'right'],['863',652.7,1898,'right'],['55,128 bp',746,1571.7,'center'],['51,275 bp',744.5,1752.7,'center'],['82,586 bp',755.5,1933.7,'center']].forEach(a=>T(a[1],a[2],a[0],{size:29.3,color:'#111',align:a[3]}));
[['Yes',1479.8],['No',1534.5],['Yes',1687.5],['No',1743.6],['Yes',1896.5],['No',1950.5]].forEach(a=>T(473.6,a[1],a[0],{size:34,align:'right',medium:.7,color:a[0]==='Yes'?GREEN:'#000'}));
[['Mitosis-specific genes,',1484],['[Spg] ≤ 0.5× [Spl]',1521],['Meiosis I-specific genes,',1647.5],['[Spg] ≤ 0.5× [Spl]',1684],['and [Spl] ≥ 2× [SpII]',1720.5],['Expressed from meiosis I',1810],['through spermiogenesis,',1847.4],['[Spg] ≤ 0.5× [Spl]',1884],['and [Spl] ≤ [SpII] and [RS]',1919.6]].forEach(a=>T(353.6,a[1],a[0],{size:29.7,align:'right',color:'#111'}));
[[1461,1552],[1642,1733.8],[1824,1914.7]].forEach(b=>P([[394.4,b[0]],[376,b[0]],[376,b[1]],[394.4,b[1]]],2.2));
T(682,2043.9,'Distance from TSS',{size:37,align:'center',color:'#111'});
T(680,2079,'to nearest TCFL5 peak (bp)',{size:36.2,align:'center',color:'#111'});

// --- Panel E
const EX=980,EF=1.896,panelE='#e5e5e5';
R(1074.4,1054.5,672.6,199.8,panelE);R(1074.4,1365.6,671.4,99.4,panelE);R(1074.4,1581.7,671.4,90.2,panelE);R(1074.4,1786.2,671.4,217.3,panelE);
T(1021,1528,'Trtanscription factor occupancy (rpm)',{size:44,align:'center',rot:Math.PI/2,color:'#111'});
track(stra8Track,{l:1090.8,r:1684,top:1074.8,zero:1149.2,max:2,color:'#1c1c1c',bar:true,m:7,up:3});
track(tcfl5Tut4Track,{l:1090.8,r:1684,top:1174.9,zero:1248.9,max:1.5,bar:true,m:7,up:7});
track(tcfl5Tut7Track,{l:1090.8,r:1685,top:1383,zero:1457.9,max:1.5,bar:true,m:7,up:7});
track(dis3l2Track,{l:1090.8,r:1709.4,top:1593,zero:1667.4,max:1.5,bar:true,m:7,up:7});
track(amybTrack,{l:1090.8,r:1685,top:1802,zero:1876,max:1.5,color:'#1c1c1c',bar:true,m:7,up:8});
track(tcfl5KctdTrack,{l:1090.8,r:1685,top:1926,zero:2000.4,max:1.5,bar:true,m:7,up:7});
const E=(a,b,y,tss,end,lab,ay,tick,ny,name,span)=>({ox:EX,xf:EF,a,b,y,tss,end,lab,ay,tick,ny,name,span,ls:23});
gene(tut4Exons,E(218,1378,1301.3,281,1332,807,1265.5,1281.7,1334,'Tut4','99,990 bp'));
gene(tut7Exons,E(218,1378,1512,248,1335,792,1476,1493.7,1544.7,'Tut7','51,587 bp'));
gene(dis3l2Exons,E(218,1432,1719.4,245,1381,815,1683.3,1701.2,1752.8,'Dis3l2','346,250 bp'));
gene(kctd19Exons,E(218,1378,2051,309,1335,822,2014.9,2032.4,2083.4,'Kctd19','32,795 bp'));
const E1=21,ES=22,EK=22.8,EL=22;
T(1087,1071,'{n|STRA8 ChIP (Kojima et al., }{i|eLife}{n| 2019)}',{size:22.8,rich:{n:{fontFamily:F,fontSize:22.8,fill:'#111'},i:{fontFamily:F,fontStyle:'italic',fontSize:22.8,fill:'#111'}}});
[1171.8,1380.4,1593.7,1923.3].forEach(y=>T(1087,y,'TCFL5 CUT&RUN',{size:EL,color:GREEN}));
T(1087,1798.6,'A-MYB CUT&RUN',{size:22.8,color:'#111'});
annot(1738,1107,'Stra8','–/–','0.92 ± 0.04',EK);
annot(1738,1179.3,'Tcfl5',HE,'1.8 ± 0.9',E1);annot(1738,1211.4,'Tcfl5',EE,'1.6 ± 0.4',ES);
annot(1738,1392.6,'Tcfl5',HE,'0.8 ± 0.1',E1);annot(1738,1426,'Tcfl5',EE,'1.5 ± 0.3',ES);
annot(1738,1608.9,'Tcfl5',HE,'0.5 ± 0.1',E1);annot(1738,1641.3,'Tcfl5',EE,'0.46 ± 0.06',ES);
annot(1738,1821.7,'A-Myb','–/–','0.10 ± 0.05',EK);
annot(1738,1934.7,'Tcfl5',HE,'0.3 ± 0.2',E1);annot(1738,1967,'Tcfl5',EE,'0.45 ± 0.09',ES);

const chart=echarts.init(document.getElementById('c'),null,{renderer:'canvas'});
chart.setOption({animation:false,backgroundColor:'#fff',tooltip:{show:false},grid:grids,xAxis:xAxes,yAxis:yAxes,series,graphic:{elements:graphic}});
</script></body></html>
